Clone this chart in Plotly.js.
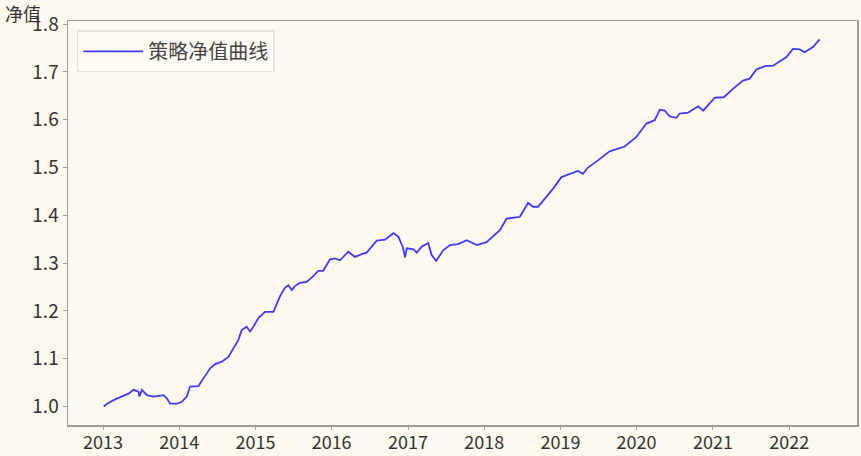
<!DOCTYPE html>
<html>
<head>
<meta charset="utf-8">
<script src="https://cdn.plot.ly/plotly-3.0.1.min.js"></script>
<style>
html,body{margin:0;padding:0;background:#fdf9ee;}
#chart{width:861px;height:456px;}
</style>
</head>
<body>
<div id="chart"></div>
<script>
const seriesName = "策略净值曲线";
const yTitle = "净值";
const dates = [
"2013-01-04","2013-01-28","2013-02-28","2013-04-10","2013-05-03","2013-05-27","2013-06-20","2013-06-24","2013-07-06","2013-07-30",
"2013-08-30","2013-10-17","2013-11-02","2013-11-18","2013-12-20","2014-01-13","2014-02-06","2014-02-22","2014-04-03","2014-04-27",
"2014-05-29","2014-06-22","2014-07-24","2014-08-24","2014-09-17","2014-10-11","2014-10-27","2014-11-20","2014-12-06","2014-12-22",
"2015-01-15","2015-02-16","2015-03-28","2015-04-13","2015-04-29","2015-05-23","2015-06-08","2015-06-24","2015-07-09","2015-08-02",
"2015-09-03","2015-10-05","2015-10-29","2015-11-22","2015-12-24","2016-01-17","2016-02-10","2016-03-21","2016-04-22","2016-05-24",
"2016-06-17","2016-08-04","2016-09-13","2016-10-23","2016-11-16","2016-12-07","2016-12-18","2016-12-26","2017-01-27","2017-02-12",
"2017-03-08","2017-04-08","2017-04-24","2017-05-16","2017-06-19","2017-07-21","2017-08-29","2017-10-09","2017-11-26","2018-01-12",
"2018-03-17","2018-04-18","2018-06-21","2018-07-30","2018-08-23","2018-09-16","2018-11-27","2019-01-06","2019-02-15","2019-03-26",
"2019-04-19","2019-05-13","2019-06-30","2019-08-25","2019-11-05","2019-12-31","2020-02-17","2020-03-28","2020-04-21","2020-05-15",
"2020-06-08","2020-07-10","2020-07-26","2020-09-04","2020-10-22","2020-11-15","2021-01-10","2021-02-22","2021-04-08","2021-05-25",
"2021-06-26","2021-07-28","2021-09-06","2021-10-16","2021-12-19","2022-01-19","2022-02-20","2022-03-16","2022-04-25","2022-05-27"
];
const netValue = [
1.000,1.008,1.015,1.022,1.027,1.035,1.031,1.021,1.035,1.024,
1.021,1.024,1.018,1.006,1.006,1.010,1.021,1.042,1.043,1.059,
1.080,1.089,1.094,1.104,1.122,1.139,1.160,1.167,1.157,1.167,
1.185,1.198,1.198,1.216,1.231,1.249,1.254,1.244,1.252,1.259,
1.261,1.273,1.284,1.284,1.308,1.310,1.306,1.324,1.313,1.319,
1.322,1.347,1.349,1.363,1.355,1.334,1.312,1.331,1.329,1.322,
1.335,1.342,1.317,1.305,1.327,1.338,1.340,1.348,1.338,1.344,
1.369,1.393,1.397,1.426,1.418,1.418,1.456,1.480,1.487,1.493,
1.487,1.500,1.515,1.534,1.544,1.564,1.592,1.599,1.621,1.619,
1.607,1.604,1.613,1.615,1.628,1.619,1.646,1.647,1.665,1.682,
1.686,1.705,1.712,1.713,1.731,1.748,1.747,1.741,1.752,1.768
];
const yTicks = [1.0,1.1,1.2,1.3,1.4,1.5,1.6,1.7,1.8];
const yTickText = ["1.0","1.1","1.2","1.3","1.4","1.5","1.6","1.7","1.8"];

const font = "'Noto Sans CJK SC','Noto Sans',sans-serif";
const textColor = "#333333";
const trace = {
  x: dates, y: netValue, type: "scatter", mode: "lines", name: seriesName,
  line: {color: "#3c3cff", width: 1.8}
};
const axisLine = "#a29d92";
const layout = {
  width: 861, height: 456,
  paper_bgcolor: "#fdf9ee", plot_bgcolor: "#fdf9ee",
  margin: {l: 68, r: 4, t: 21, b: 31},
  font: {family: font, color: textColor, size: 18},
  showlegend: true,
  legend: {
    x: 0.011, y: 0.977, xanchor: "left", yanchor: "top",
    bgcolor: "rgba(255,255,255,0.4)", bordercolor: "#e6e2d8", borderwidth: 1.5,
    itemwidth: 60, tracegroupgap: 0,
    font: {family: font, size: 20, color: "#444444"}
  },
  xaxis: {
    type: "date",
    range: ["2012-07-17", "2022-11-22"],
    tick0: "2013-01-01", dtick: "M12", tickformat: "%Y",
    showgrid: false, zeroline: false,
    showline: true, mirror: true, linecolor: axisLine, linewidth: 1.5,
    ticks: "outside", ticklen: 3, tickcolor: axisLine, tickwidth: 1,
    ticklabelstandoff: -2,
    tickfont: {family: font, size: 18, color: textColor}
  },
  yaxis: {
    range: [0.9615, 1.8065],
    tickvals: yTicks, ticktext: yTickText,
    showgrid: false, zeroline: false,
    showline: true, mirror: true, linecolor: axisLine, linewidth: 1.5,
    ticks: "outside", ticklen: 4, tickcolor: axisLine, tickwidth: 1,
    tickfont: {family: font, size: 19, color: textColor}
  },
  annotations: [{
    text: yTitle, xref: "paper", yref: "paper", x: -0.083, y: 1.0,
    xanchor: "left", yanchor: "bottom", yshift: -7, showarrow: false,
    font: {family: font, size: 18, color: textColor}
  }]
};
Plotly.newPlot("chart", [trace], layout, {displayModeBar: false, staticPlot: true});
</script>
</body>
</html>
